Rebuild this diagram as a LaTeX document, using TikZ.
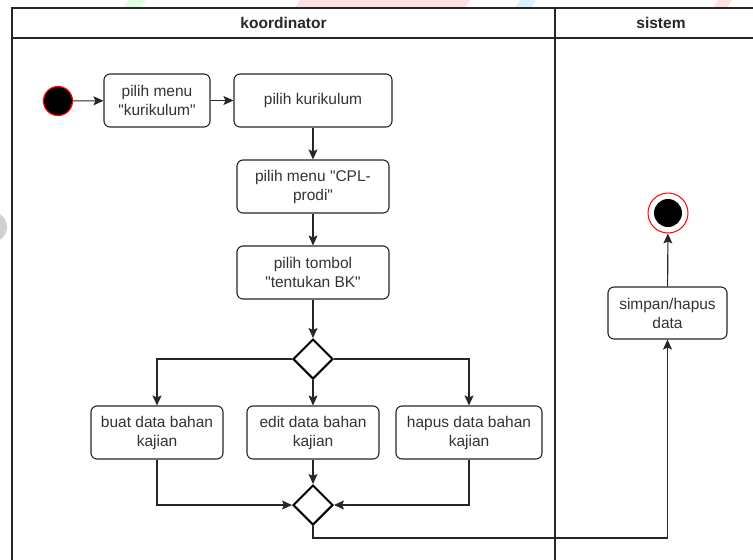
\documentclass[tikz,border=0pt]{standalone}
\usepackage{fontspec}
\setmainfont{Liberation Sans}[Ligatures=TeXOff]
\usetikzlibrary{shapes.geometric,arrows.meta}

\begin{document}
\begin{tikzpicture}[x=1pt,y=-1pt,
  act/.style={draw=black!85, line width=1.1pt, rounded corners=6pt, align=center,
    font=\fontsize{15.5}{19}\selectfont, text=black!80, inner sep=0pt, fill=white},
  decision/.style={diamond, draw=black, line width=2pt, minimum width=40pt,
    minimum height=40pt, inner sep=0pt, fill=white},
  flow/.style={draw=black!85, line width=1.1pt, -{Stealth[length=10pt,width=9pt,inset=2pt]}},
  lane/.style={draw=black!85, line width=1.2pt},
  head/.style={font=\bfseries\fontsize{15.5}{17}\selectfont, text=black!85}]

  \useasboundingbox (0,0) rectangle (753,560);
  \clip (0,0) rectangle (753,560);

  % faint background marks
  \fill[green!12] (128,0) -- (146,0) -- (141,8) -- (123,8) -- cycle;
  \fill[red!12] (300,0) -- (470,0) -- (465,8) -- (295,8) -- cycle;
  \fill[cyan!15] (520,0) -- (536,0) -- (531,8) -- (515,8) -- cycle;
  \fill[red!12] (718,0) -- (732,0) -- (727,8) -- (713,8) -- cycle;
  \fill[black!18] (-8,227) circle (15);

  % swimlanes
  \draw[lane] (12,8) rectangle (780,590);
  \draw[lane] (12,38) -- (780,38);
  \draw[lane] (555,8) -- (555,590);
  \node[head] (hk) at (283.5,23) {koordinator};
  \node[head] (hs) at (661,23) {sistem};

  % start and end
  \node[circle, fill=black, draw=red, line width=1.2pt, minimum size=29pt, inner sep=0pt] (start) at (58,101) {};
  \node[circle, draw=red, line width=1pt, fill=white, minimum size=40pt, inner sep=0pt] (end) at (668,213) {};
  \node[circle, fill=black, minimum size=28pt, inner sep=0pt] (endin) at (668,213) {};

  % activities
  \node[act, minimum width=106pt, minimum height=53pt] (menu) at (157,100.5) {pilih menu\\"kurikulum"};
  \node[act, minimum width=158pt, minimum height=53pt] (kur) at (313,100.5) {pilih kurikulum};
  \node[act, minimum width=152pt, minimum height=53pt] (cpl) at (313,186.5) {pilih menu "CPL-\\prodi"};
  \node[act, minimum width=152pt, minimum height=53pt] (bk) at (313,272.5) {pilih tombol\\"tentukan BK"};
  \node[decision] (split) at (313,359) {};
  \node[act, minimum width=132pt, minimum height=53pt] (buat) at (157,432.5) {buat data bahan\\kajian};
  \node[act, minimum width=132pt, minimum height=53pt] (edit) at (313,432.5) {edit data bahan\\kajian};
  \node[act, minimum width=146pt, minimum height=53pt] (hapus) at (469,432.5) {hapus data bahan\\kajian};
  \node[decision] (merge) at (313,505) {};
  \node[act, minimum width=119pt, minimum height=52pt] (simpan) at (667.5,313) {simpan/hapus\\data};
  \coordinate (turn) at (313,538);

  % control flow
  \draw[flow] (start) -- (menu);
  \draw[flow] (menu) -- (kur);
  \draw[flow] (kur) -- (cpl);
  \draw[flow] (cpl) -- (bk);
  \draw[flow] (bk) -- (split);
  \draw[flow] (split.west) -| (buat.north);
  \draw[flow] (split) -- (edit);
  \draw[flow] (split.east) -| (hapus.north);
  \draw[flow] (buat.south) |- (merge.west);
  \draw[flow] (edit) -- (merge);
  \draw[flow] (hapus.south) |- (merge.east);
  \draw[flow] (merge.south) -- (turn) -| (simpan.south);
  \draw[flow] (simpan) -- (end);
\end{tikzpicture}
\end{document}
